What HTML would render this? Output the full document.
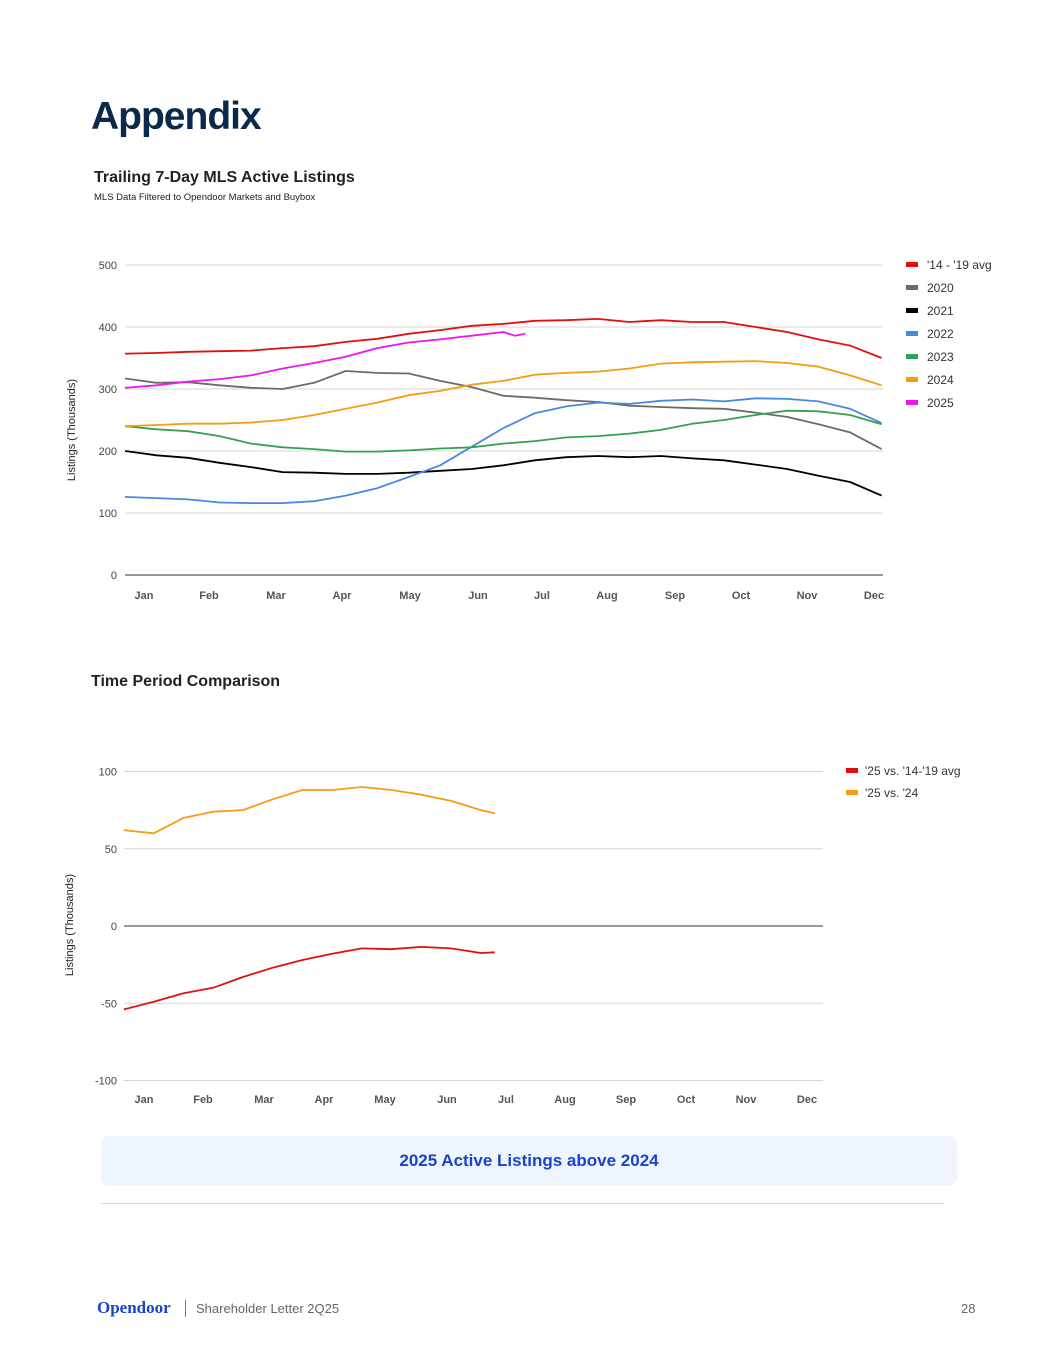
<!DOCTYPE html>
<html><head><meta charset="utf-8">
<style>
body{margin:0;background:#fff;font-family:"Liberation Sans",sans-serif;}
#page{position:relative;width:1055px;height:1365px;overflow:hidden;background:#fff;}
.abs{position:absolute;white-space:nowrap;}
svg text{font-family:"Liberation Sans",sans-serif;}
</style></head><body>
<div id="page">
<div class="abs" style="left:91px;top:95px;font-size:39px;font-weight:bold;color:#0b2a4a;letter-spacing:-1px;">Appendix</div>
<div class="abs" style="left:94px;top:169px;font-size:16px;font-weight:bold;color:#222;">Trailing 7-Day MLS Active Listings</div>
<div class="abs" style="left:94px;top:192px;font-size:9.5px;color:#222;">MLS Data Filtered to Opendoor Markets and Buybox</div>
<div class="abs" style="left:91px;top:673px;font-size:16px;font-weight:bold;color:#222;">Time Period Comparison</div>
<svg id="c1" style="position:absolute;left:0;top:0" width="1055" height="640"></svg>
<svg id="c2" style="position:absolute;left:0;top:0" width="1055" height="1120"></svg>
<div class="abs" style="left:101px;top:1136px;width:856px;height:50px;background:#eef5fe;border-radius:8px;"></div>
<div class="abs" style="left:101px;top:1151px;width:856px;text-align:center;font-size:17px;font-weight:bold;color:#1a44c8;">2025 Active Listings above 2024</div>
<div class="abs" style="left:101px;top:1203px;width:843px;height:1px;background:#d8d8d8;"></div>
<div class="abs" style="left:97px;top:1298px;font-family:'Liberation Serif',serif;font-weight:bold;font-size:17px;color:#1a44c8;">Opendoor</div>
<div class="abs" style="left:185px;top:1300px;width:1px;height:17px;background:#777;"></div>
<div class="abs" style="left:196px;top:1301px;font-size:13px;color:#666;">Shareholder Letter 2Q25</div>
<div class="abs" style="left:961px;top:1301px;font-size:13px;color:#666;">28</div>
</div>
<script>
// Chart 1 data (thousands), sampled every ~15.2 days
const days1 = [0,15.2,30.4,45.6,60.8,76,91.2,106.4,121.6,136.8,152,167.2,182.4,197.6,212.8,228,243.2,258.4,273.6,288.8,304,319.2,334.4,349.6,364.8];
const avg1419 = [357,358,360,361,362,366,369,376,381,389,395,402,405,410,411,413,408,411,408,408,400,392,380,370,350];
const y2020 = [317,310,311,306,302,300,310,329,326,325,313,303,289,286,282,279,273,271,269,268,262,255,243,230,203];
const y2021 = [200,193,189,181,174,166,165,163,163,165,168,171,177,185,190,192,190,192,188,185,178,171,160,150,128];
const y2022 = [126,124,122,117,116,116,119,128,140,158,177,207,237,261,272,278,276,281,283,280,285,284,280,268,245];
const y2023 = [240,235,232,224,212,206,203,199,199,201,204,206,212,216,222,224,228,234,244,250,258,265,264,258,243];
const y2024 = [240,242,244,244,246,250,258,268,278,290,297,307,313,323,326,328,333,341,343,344,345,342,336,322,306];
const days2025 = [0,15.2,30.4,45.6,60.8,76,91.2,106.4,121.6,136.8,152,167.2,182.4,188,193];
const y2025 = [302,306,312,316,322,333,342,352,366,375,380,386,392,386,389];
const seriesNames1 = ["'14 - '19 avg","2020","2021","2022","2023","2024","2025"];
const months = ["Jan","Feb","Mar","Apr","May","Jun","Jul","Aug","Sep","Oct","Nov","Dec"];
const ticks1 = [0,100,200,300,400,500];
// Chart 2 data
const days2 = [0,15,30,45,60,75,90,105,120,135,150,165,180,187];
const vsAvg = [-54,-49,-43.5,-40,-33,-27,-22,-18,-14.5,-15,-13.5,-14.5,-17.5,-17];
const vs24 = [62,60,70,74,75,82,88,88,90,88,85,81,75,73];
const seriesNames2 = ["'25 vs. '14-'19 avg","'25 vs. '24"];
const ticks2 = [-100,-50,0,50,100];

const NS="http://www.w3.org/2000/svg";
function mk(svg,tag,attrs,name){const e=document.createElementNS(NS,tag);for(const k in attrs)e.setAttribute(k,attrs[k]);


svg.appendChild(e);return e;}
function txt(svg,x,y,s,opts,name){const t=mk(svg,'text',Object.assign({x:x,y:y,'font-size':11,fill:'#444'},opts||{}),name);t.textContent=s;return t;}

// Chart 1
(function(){
const svg=document.getElementById('c1');
const X0=125,X1=882,Y0=575,Y1=265;
const xs=d=>X0+d*(X1-X0)/365, ys=v=>Y0-(v/500)*(Y0-Y1);
ticks1.forEach(t=>{mk(svg,'line',{x1:X0,x2:X1+1,y1:ys(t),y2:ys(t),stroke:t===0?'#333':'#d6d6d6','stroke-width':1},'y-gridline');
txt(svg,117,ys(t)+4,String(t),{'text-anchor':'end'},'y-tick-label');});
const mpos=[144,209,276,342,410,478,542,607,675,741,807,874];
months.forEach((m,i)=>txt(svg,mpos[i],599,m,{'text-anchor':'middle','font-weight':'bold',fill:'#555'},'x-tick-label'));
txt(svg,75,430,'Listings (Thousands)',{'text-anchor':'middle',transform:'rotate(-90 75 430)',fill:'#222'},'y-axis-title');
const data=[avg1419,y2020,y2021,y2022,y2023,y2024,y2025];
const cols=['#e01010','#6b6b6b','#000','#4a88e0','#34a250','#f59c13','#f014f0'];
data.forEach((arr,si)=>{const dd=si===6?days2025:days1;const p=arr.map((v,i)=>(i?'L':'M')+xs(dd[i]).toFixed(1)+' '+ys(v).toFixed(1)).join(' ');
mk(svg,'path',{d:p,fill:'none',stroke:cols[si],'stroke-width':1.8,'stroke-linejoin':'round'},'series-line');
mk(svg,'rect',{x:906,y:262+si*23,width:12,height:5,fill:cols[si]},'legend-swatch');
txt(svg,927,269+si*23,seriesNames1[si],{fill:'#333','font-size':12},'legend-label');});
})();

// Chart 2
(function(){
const svg=document.getElementById('c2');
const X0=124,X1=823,Y0=926;
const xs=d=>X0+d*(60.3*12/365), ys=v=>Y0-v*1.545;
ticks2.forEach(t=>{mk(svg,'line',{x1:X0,x2:X1,y1:ys(t),y2:ys(t),stroke:t===0?'#333':'#d6d6d6','stroke-width':1},'y-gridline');
txt(svg,117,ys(t)+4,String(t),{'text-anchor':'end'},'y-tick-label');});
const mpos=[144,203,264,324,385,447,506,565,626,686,746,807];
months.forEach((m,i)=>txt(svg,mpos[i],1103,m,{'text-anchor':'middle','font-weight':'bold',fill:'#555'},'x-tick-label'));
txt(svg,73,925,'Listings (Thousands)',{'text-anchor':'middle',transform:'rotate(-90 73 925)',fill:'#222'},'y-axis-title');
const data=[vsAvg,vs24];const cols=['#e01010','#f59c13'];
data.forEach((arr,si)=>{const p=arr.map((v,i)=>(i?'L':'M')+xs(days2[i]).toFixed(1)+' '+ys(v).toFixed(1)).join(' ');
mk(svg,'path',{d:p,fill:'none',stroke:cols[si],'stroke-width':1.8,'stroke-linejoin':'round'},'series-line');
mk(svg,'rect',{x:846,y:768+si*22,width:12,height:5,fill:cols[si]},'legend-swatch');
txt(svg,865,775+si*22,seriesNames2[si],{fill:'#333','font-size':12},'legend-label');});
})();
</script>
</body></html>
